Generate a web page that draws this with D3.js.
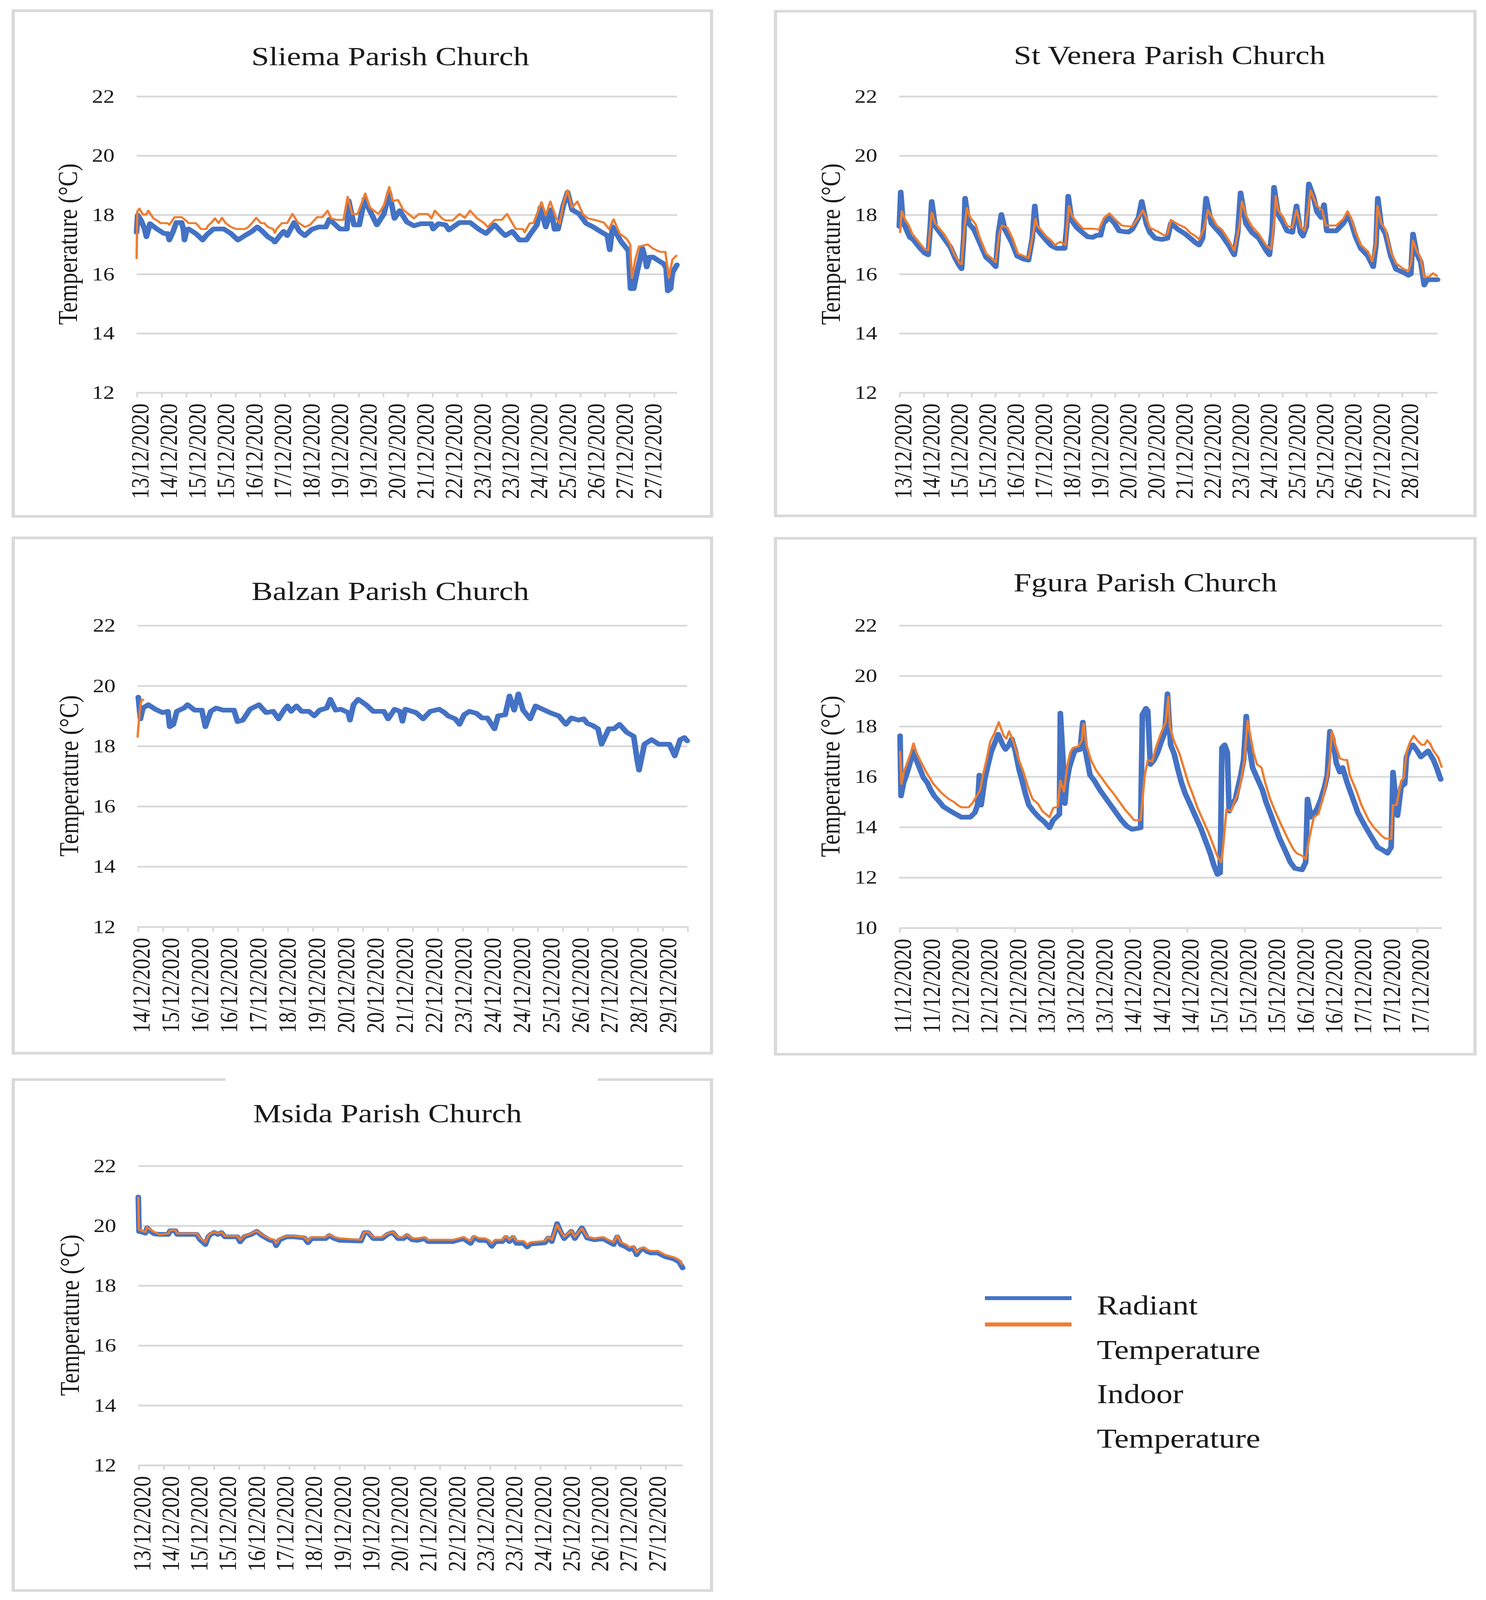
<!DOCTYPE html>
<html>
<head>
<meta charset="utf-8">
<script src="https://cdn.jsdelivr.net/npm/d3@7"></script>
<style>
  html, body { margin: 0; padding: 0; background: #fff; overflow: hidden; }
  svg { display: block; }
  text { font-family: "Liberation Serif", "Times New Roman", serif; fill: #1a1a1a; }
</style>
</head>
<body>
<div id="chart"></div>
<script>
// readings are [reading index, °C]; index runs along each panel's category axis
const sliemaLabels = ["13/12/2020","14/12/2020","15/12/2020","15/12/2020","16/12/2020","17/12/2020","18/12/2020","19/12/2020","19/12/2020","20/12/2020","21/12/2020","22/12/2020","23/12/2020","23/12/2020","24/12/2020","25/12/2020","26/12/2020","27/12/2020","27/12/2020"];
const veneraLabels = ["13/12/2020","14/12/2020","15/12/2020","15/12/2020","16/12/2020","17/12/2020","18/12/2020","19/12/2020","20/12/2020","20/12/2020","21/12/2020","22/12/2020","23/12/2020","24/12/2020","25/12/2020","25/12/2020","26/12/2020","27/12/2020","28/12/2020"];
const balzanLabels = ["14/12/2020","15/12/2020","16/12/2020","16/12/2020","17/12/2020","18/12/2020","19/12/2020","20/12/2020","20/12/2020","21/12/2020","22/12/2020","23/12/2020","24/12/2020","24/12/2020","25/12/2020","26/12/2020","27/12/2020","28/12/2020","29/12/2020"];
const fguraLabels = ["11/12/2020","11/12/2020","12/12/2020","12/12/2020","12/12/2020","13/12/2020","13/12/2020","13/12/2020","14/12/2020","14/12/2020","14/12/2020","15/12/2020","15/12/2020","15/12/2020","16/12/2020","16/12/2020","17/12/2020","17/12/2020","17/12/2020"];
const msidaLabels = ["13/12/2020","14/12/2020","15/12/2020","15/12/2020","16/12/2020","17/12/2020","18/12/2020","19/12/2020","19/12/2020","20/12/2020","21/12/2020","22/12/2020","23/12/2020","23/12/2020","24/12/2020","25/12/2020","26/12/2020","27/12/2020","27/12/2020"];

const yTicks = [12, 14, 16, 18, 20, 22];
const yTicksFgura = [10, 12, 14, 16, 18, 20, 22];
const legendLines = ["Radiant", "Temperature", "Indoor", "Temperature"];

const sliemaRadiant = [[0,17.4],[3,17.98],[13,17.8],[23,17.5],[28,17.25],[38,17.69],[58,17.51],[78,17.36],[88,17.36],[93,17.14],[103,17.4],[113,17.73],[128,17.73],[133,17.5],[136,17.14],[143,17.5],[148,17.51],[168,17.36],[188,17.14],[198,17.3],[218,17.51],[248,17.51],[268,17.36],[288,17.14],[308,17.29],[328,17.43],[343,17.58],[358,17.43],[373,17.25],[388,17.14],[393,17.07],[408,17.3],[418,17.43],[428,17.29],[448,17.73],[463,17.43],[478,17.29],[498,17.5],[518,17.58],[538,17.58],[548,17.84],[568,17.62],[578,17.51],[598,17.51],[603,18.46],[618,17.65],[633,17.65],[648,18.53],[660,18.2],[683,17.65],[703,18.02],[718,18.75],[733,17.87],[748,18.13],[768,17.75],[788,17.62],[808,17.69],[838,17.69],[843,17.51],[858,17.69],[878,17.65],[888,17.48],[908,17.65],[918,17.73],[948,17.73],[973,17.5],[993,17.36],[1018,17.65],[1038,17.4],[1048,17.29],[1068,17.43],[1088,17.14],[1108,17.14],[1118,17.32],[1138,17.65],[1148,18.24],[1163,17.58],[1178,18.16],[1188,17.5],[1198,17.51],[1213,18.31],[1225,18.75],[1238,18.16],[1258,18.02],[1278,17.7],[1298,17.58],[1318,17.43],[1338,17.29],[1345,16.81],[1353,17.58],[1378,17.07],[1398,16.78],[1404,15.5],[1413,15.5],[1423,16.08],[1438,16.85],[1446,16.5],[1450,16.23],[1458,16.56],[1468,16.56],[1488,16.41],[1498,16.34],[1505,16.2],[1510,15.42],[1518,15.5],[1523,16.04],[1536,16.3]];
const sliemaIndoor = [[0,16.5],[2,18.1],[8,18.2],[18,18.0],[28,18.0],[33,18.13],[48,17.87],[58,17.8],[68,17.71],[88,17.71],[93,17.65],[108,17.91],[128,17.91],[138,17.82],[148,17.71],[168,17.71],[173,17.65],[183,17.51],[198,17.51],[203,17.62],[213,17.73],[223,17.87],[233,17.71],[243,17.89],[253,17.71],[268,17.58],[283,17.51],[308,17.51],[318,17.58],[328,17.71],[340,17.89],[353,17.71],[363,17.71],[373,17.58],[388,17.51],[393,17.38],[398,17.51],[413,17.71],[428,17.71],[443,18.02],[458,17.74],[478,17.58],[493,17.65],[513,17.91],[528,17.91],[543,18.13],[553,17.87],[568,17.82],[588,17.82],[600,18.6],[613,18.02],[628,18.02],[643,18.49],[650,18.71],[663,18.24],[678,18.1],[688,18.02],[703,18.31],[718,18.93],[728,18.46],[743,18.49],[758,18.16],[773,18.02],[788,17.87],[803,18.02],[828,18.02],[838,17.87],[848,18.13],[868,17.87],[878,17.8],[898,17.8],[908,17.91],[918,18.02],[933,17.89],[948,18.13],[968,17.87],[988,17.71],[998,17.58],[1018,17.82],[1038,17.82],[1053,18.02],[1068,17.71],[1078,17.51],[1098,17.51],[1103,17.4],[1118,17.71],[1128,17.71],[1151,18.42],[1163,17.98],[1176,18.44],[1193,17.87],[1203,17.69],[1213,18.38],[1225,18.82],[1238,18.24],[1253,18.44],[1268,18.02],[1283,17.87],[1308,17.8],[1328,17.73],[1343,17.51],[1356,17.84],[1373,17.36],[1393,17.18],[1403,16.99],[1408,15.86],[1418,16.5],[1428,16.92],[1453,16.99],[1468,16.85],[1488,16.74],[1503,16.74],[1513,15.86],[1523,16.48],[1536,16.63]];

const veneraRadiant = [[0,17.6],[4,18.76],[10,17.8],[20,17.5],[30,17.23],[40,17.15],[50,17.0],[60,16.85],[72,16.7],[82,16.64],[88,17.6],[92,18.44],[102,17.6],[115,17.4],[130,17.15],[145,16.9],[160,16.5],[172,16.25],[177,16.17],[183,17.2],[187,18.55],[197,17.7],[212,17.5],[227,17.1],[247,16.55],[262,16.4],[274,16.24],[282,17.4],[290,18.0],[300,17.5],[320,17.05],[335,16.6],[352,16.5],[367,16.46],[378,17.2],[385,18.29],[392,17.5],[405,17.3],[420,17.1],[432,16.95],[447,16.86],[470,16.86],[476,17.6],[480,18.62],[490,17.8],[505,17.55],[520,17.4],[535,17.25],[550,17.23],[562,17.3],[572,17.3],[580,17.7],[597,17.9],[612,17.7],[625,17.45],[640,17.42],[652,17.41],[662,17.5],[680,17.9],[689,18.44],[702,17.7],[712,17.4],[727,17.2],[747,17.16],[762,17.2],[772,17.7],[792,17.5],[812,17.35],[827,17.2],[842,17.05],[852,16.97],[862,17.2],[872,18.55],[887,17.7],[902,17.5],[917,17.3],[937,16.95],[952,16.64],[962,17.4],[970,18.73],[985,17.7],[1002,17.4],[1022,17.2],[1042,16.8],[1052,16.64],[1060,17.5],[1065,18.92],[1077,18.0],[1092,17.7],[1102,17.45],[1117,17.4],[1129,18.29],[1140,17.4],[1147,17.27],[1157,17.6],[1164,19.03],[1177,18.6],[1187,18.1],[1199,17.9],[1207,18.33],[1215,17.45],[1242,17.45],[1262,17.7],[1274,17.95],[1284,17.75],[1297,17.25],[1312,16.85],[1332,16.6],[1347,16.24],[1355,17.0],[1360,18.55],[1370,17.6],[1382,17.35],[1397,16.6],[1412,16.15],[1432,16.05],[1447,15.95],[1454,16.0],[1460,17.34],[1470,16.7],[1482,16.4],[1492,15.62],[1500,15.8],[1517,15.8],[1530,15.8]];
const veneraIndoor = [[2,17.38],[7,18.11],[17,17.82],[27,17.63],[37,17.34],[42,17.27],[52,17.12],[62,16.97],[72,16.83],[82,16.79],[92,18.07],[102,17.71],[112,17.56],[127,17.34],[142,17.05],[157,16.64],[172,16.35],[177,16.32],[185,17.52],[192,18.22],[202,17.89],[217,17.67],[227,17.27],[247,16.68],[262,16.53],[274,16.39],[284,17.34],[292,17.63],[307,17.56],[322,17.19],[337,16.68],[352,16.61],[367,16.53],[382,17.45],[387,17.85],[392,17.63],[402,17.49],[417,17.27],[432,17.12],[442,16.97],[457,17.08],[472,16.97],[482,18.29],[492,17.93],[507,17.71],[522,17.52],[552,17.52],[567,17.49],[582,17.89],[597,18.04],[612,17.85],[632,17.63],[652,17.6],[662,17.6],[682,17.93],[692,18.15],[702,17.89],[712,17.56],[737,17.41],[752,17.3],[762,17.34],[772,17.82],[792,17.67],[812,17.56],[827,17.38],[842,17.27],[852,17.16],[867,17.56],[877,18.15],[892,17.85],[902,17.63],[917,17.49],[937,17.12],[952,16.79],[967,17.63],[974,18.44],[987,17.93],[1002,17.6],[1022,17.34],[1042,16.97],[1057,16.83],[1067,17.96],[1070,18.62],[1077,18.15],[1092,17.89],[1102,17.63],[1117,17.56],[1129,18.15],[1142,17.56],[1152,17.45],[1162,18.15],[1169,18.81],[1177,18.58],[1187,18.29],[1202,18.15],[1212,17.63],[1242,17.63],[1262,17.85],[1274,18.11],[1284,17.89],[1297,17.41],[1312,16.97],[1332,16.75],[1344,16.42],[1354,16.97],[1359,18.29],[1370,17.71],[1382,17.49],[1397,16.75],[1412,16.35],[1432,16.17],[1447,16.1],[1455,16.39],[1460,17.12],[1470,16.79],[1482,16.53],[1492,15.88],[1507,15.91],[1517,16.02],[1530,15.91]];

const balzanRadiant = [[2,19.61],[8,18.89],[15,19.25],[30,19.36],[50,19.21],[70,19.1],[85,19.14],[90,18.63],[100,18.7],[110,19.14],[130,19.25],[140,19.36],[160,19.18],[180,19.18],[190,18.63],[205,19.14],[220,19.25],[240,19.18],[270,19.18],[280,18.8],[295,18.85],[315,19.21],[340,19.36],[360,19.1],[380,19.14],[395,18.89],[410,19.18],[420,19.32],[430,19.14],[445,19.32],[460,19.14],[480,19.14],[495,18.99],[510,19.18],[530,19.25],[540,19.54],[555,19.18],[570,19.21],[590,19.1],[595,18.85],[605,19.36],[618,19.54],[640,19.36],[660,19.14],[690,19.14],[702,18.89],[720,19.21],[735,19.14],[742,18.81],[750,19.21],[780,19.1],[800,18.89],[820,19.14],[845,19.21],[860,19.1],[870,18.99],[890,18.89],[902,18.71],[915,19.03],[930,19.14],[950,19.07],[965,18.92],[980,18.92],[1000,18.56],[1010,18.99],[1030,19.03],[1042,19.65],[1055,19.18],[1067,19.72],[1080,19.18],[1100,18.89],[1115,19.32],[1135,19.21],[1155,19.1],[1180,18.99],[1200,18.71],[1215,18.92],[1235,18.85],[1250,18.89],[1260,18.74],[1275,18.67],[1290,18.56],[1300,18.05],[1320,18.56],[1335,18.56],[1350,18.71],[1370,18.45],[1390,18.31],[1400,17.5],[1405,17.19],[1420,18.05],[1440,18.2],[1460,18.05],[1490,18.05],[1505,17.66],[1520,18.2],[1532,18.27],[1540,18.16]];
const balzanIndoor = [[0,18.27],[2,18.6],[8,19.35],[12,19.54],[18,19.5]];

const fguraRadiant = [[1.5,17.61],[3,15.22],[7.5,15.76],[12,16.05],[18,16.53],[24,17.01],[28.6,16.65],[34.6,16.29],[40.6,15.94],[46.6,15.76],[52.6,15.46],[58.6,15.22],[67.6,14.98],[73.7,14.8],[85.7,14.62],[94.7,14.5],[103.7,14.38],[118.7,14.38],[126.3,14.56],[130.8,14.86],[133.8,16.05],[136.8,14.86],[142.8,15.88],[147.3,16.35],[153.3,16.95],[159.3,17.31],[165.3,17.67],[172.9,17.25],[177.4,17.07],[183.4,17.25],[187.9,17.49],[193.9,17.01],[199.9,16.29],[205.9,15.76],[210.4,15.34],[216.4,14.86],[224,14.62],[233,14.38],[242,14.2],[251,13.96],[257,14.26],[267.5,14.5],[269,18.51],[273.6,16.6],[276.6,14.92],[279.6,15.76],[284,16.35],[288.6,16.71],[293,17.01],[302,17.07],[306.6,18.15],[311,17.01],[318.6,16.05],[326,15.82],[335,15.46],[344,15.16],[353,14.86],[362,14.56],[371,14.26],[380,14.02],[389,13.9],[403,13.96],[406,18.45],[412,18.7],[415,18.6],[419.3,16.47],[425.4,16.65],[431.4,16.95],[437.4,17.37],[443.4,17.73],[447.9,19.28],[453.1,17.25],[459.1,16.89],[465.1,16.29],[471.1,15.76],[477.1,15.34],[486.2,14.86],[495.2,14.38],[504.2,13.9],[511.7,13.42],[519.2,12.95],[525.3,12.47],[531.3,12.11],[535.8,12.17],[538.8,17.13],[543.3,17.25],[547.8,16.95],[550.8,14.62],[555.3,14.86],[561.3,15.1],[565.8,15.58],[570.3,16.05],[574.9,16.65],[579.4,18.39],[583.9,17.25],[589.9,16.35],[597.4,15.94],[606.4,15.46],[612.4,14.98],[620,14.5],[627.5,14.02],[635,13.54],[644,13.07],[653,12.59],[660.5,12.35],[672.5,12.29],[678.6,12.59],[681.6,15.1],[687.6,14.38],[692.1,14.5],[698.1,14.74],[704.1,15.1],[710.1,15.58],[714.6,16.05],[719.1,17.79],[723.7,17.49],[729.7,16.53],[735.7,16.17],[740.2,16.35],[747.7,15.76],[756.7,15.16],[765.7,14.56],[777.8,14.02],[789.8,13.54],[798.8,13.19],[807.8,13.07],[815.3,12.95],[821.3,13.19],[824.3,16.17],[831.9,14.44],[837.9,15.58],[843.9,15.7],[846.9,16.77],[852.9,17.13],[857.4,17.25],[864.9,17.01],[870.9,16.77],[876.9,16.89],[882.9,17.01],[892,16.65],[898,16.29],[904,15.88]];
const fguraIndoor = [[1.5,17.01],[3.9,15.7],[7.5,16.17],[13.5,16.53],[19.5,16.95],[24,17.31],[28.6,16.95],[34.6,16.65],[45.1,16.17],[57.1,15.7],[70.7,15.34],[82.7,15.1],[91.7,14.98],[97.7,14.86],[103.7,14.77],[115.7,14.77],[121.8,14.92],[127.8,15.16],[135.3,15.46],[139.8,16.05],[145.8,16.65],[151.8,17.37],[159.3,17.73],[166.2,18.15],[174.4,17.61],[178.9,17.49],[183.4,17.79],[190.9,17.37],[199.9,16.65],[207.4,16.17],[215,15.58],[222.5,15.1],[231.5,14.92],[239,14.62],[248,14.44],[251,14.38],[257,14.74],[264.5,14.8],[269,15.82],[275,15.4],[278,15.94],[281,16.47],[285.6,16.95],[290,17.13],[299,17.19],[305,17.43],[308,18.09],[312.6,17.25],[320,16.65],[329,16.23],[338,15.94],[347,15.64],[359,15.28],[368,14.98],[377,14.68],[386,14.44],[392,14.26],[403,14.26],[410,16.05],[415,16.65],[422.4,16.59],[428.4,17.13],[437.4,17.73],[444.9,18.15],[449.4,19.16],[452,17.97],[459.1,17.37],[468.1,16.89],[477.2,16.17],[483.2,15.7],[489.2,15.34],[498.2,14.74],[507.2,14.26],[516.2,13.78],[523.7,13.31],[531.3,12.83],[537.3,12.59],[540.3,13.07],[546.3,14.68],[553.8,14.62],[559.8,14.98],[565.8,15.34],[570.3,15.76],[576.4,16.65],[581.5,18.21],[585.4,17.73],[591.4,16.95],[597.4,16.47],[604.9,16.35],[610.9,15.76],[618.4,15.16],[627.5,14.62],[636.5,14.14],[648.5,13.54],[657.5,13.13],[663.5,12.95],[674,12.83],[678.6,12.71],[684.6,13.54],[692.1,14.38],[699.6,14.5],[707.1,15.1],[714.6,15.94],[719.1,16.65],[722.2,17.79],[728.2,17.25],[735.7,16.71],[743.2,16.65],[747.7,16.65],[752.2,16.05],[762.7,15.46],[771.7,14.86],[783.8,14.26],[792.8,13.96],[804.8,13.66],[810.8,13.54],[821.3,13.51],[824.3,14.86],[830.4,14.86],[837.9,15.82],[842.4,15.94],[846.9,16.95],[852.9,17.37],[858.9,17.61],[864.9,17.43],[872.4,17.25],[876.9,17.25],[881.5,17.43],[886,17.31],[892,17.01],[899.5,16.77],[906,16.35]];

const msidaRadiant = [[0,20.95],[2,19.8],[10,19.78],[20,19.74],[25,19.92],[35,19.8],[45,19.72],[60,19.7],[85,19.7],[90,19.82],[105,19.82],[110,19.7],[165,19.7],[175,19.52],[185,19.42],[190,19.36],[198,19.62],[205,19.7],[215,19.76],[225,19.7],[235,19.76],[245,19.62],[280,19.62],[288,19.45],[300,19.62],[320,19.7],[335,19.8],[350,19.66],[370,19.52],[385,19.46],[390,19.32],[400,19.52],[420,19.62],[440,19.62],[470,19.58],[480,19.42],[490,19.56],[530,19.56],[540,19.66],[555,19.56],[570,19.5],[630,19.48],[640,19.76],[650,19.76],[665,19.56],[690,19.56],[705,19.7],[720,19.76],[735,19.56],[750,19.56],[760,19.66],[775,19.52],[790,19.5],[810,19.56],[820,19.46],[890,19.46],[920,19.56],[940,19.4],[950,19.6],[965,19.5],[980,19.5],[990,19.46],[1000,19.3],[1010,19.46],[1030,19.46],[1040,19.6],[1050,19.46],[1060,19.6],[1070,19.4],[1090,19.4],[1100,19.28],[1110,19.38],[1150,19.42],[1160,19.58],[1170,19.46],[1185,20.06],[1195,19.78],[1205,19.56],[1225,19.8],[1235,19.56],[1255,19.92],[1270,19.58],[1290,19.52],[1315,19.56],[1330,19.46],[1345,19.36],[1355,19.62],[1365,19.36],[1380,19.28],[1390,19.2],[1400,19.26],[1410,19.02],[1420,19.18],[1430,19.22],[1440,19.12],[1450,19.08],[1470,19.08],[1490,18.96],[1515,18.88],[1530,18.78],[1540,18.58]];
const msidaIndoor = [[0,20.95],[2,19.86],[10,19.82],[20,19.78],[25,19.94],[35,19.86],[45,19.78],[55,19.73],[60,19.69],[85,19.73],[90,19.84],[105,19.84],[110,19.73],[165,19.73],[175,19.57],[185,19.48],[190,19.44],[198,19.65],[205,19.73],[215,19.78],[225,19.73],[235,19.78],[245,19.65],[280,19.65],[288,19.52],[300,19.65],[320,19.73],[335,19.82],[350,19.69],[370,19.57],[385,19.52],[390,19.4],[400,19.57],[420,19.65],[440,19.65],[470,19.61],[480,19.48],[490,19.61],[530,19.61],[540,19.69],[555,19.61],[570,19.57],[630,19.52],[640,19.78],[650,19.78],[665,19.61],[690,19.61],[705,19.73],[720,19.78],[735,19.61],[750,19.61],[760,19.69],[775,19.57],[790,19.57],[810,19.61],[820,19.52],[890,19.52],[920,19.61],[940,19.48],[950,19.65],[965,19.57],[980,19.57],[990,19.52],[1000,19.4],[1010,19.52],[1030,19.52],[1040,19.65],[1050,19.52],[1060,19.65],[1070,19.48],[1090,19.48],[1100,19.36],[1110,19.44],[1150,19.48],[1160,19.61],[1170,19.52],[1185,20.02],[1195,19.8],[1205,19.62],[1225,19.82],[1235,19.62],[1255,19.9],[1270,19.62],[1290,19.57],[1315,19.61],[1330,19.52],[1345,19.44],[1355,19.66],[1365,19.44],[1380,19.36],[1390,19.27],[1400,19.31],[1410,19.1],[1420,19.23],[1430,19.27],[1440,19.19],[1450,19.15],[1470,19.15],[1490,19.02],[1515,18.94],[1530,18.85],[1540,18.68]];

// layout, in units of a 1213-wide frame of the reference
const panels = [
  { title: "Sliema Parish Church", box: [10.8, 10.5, 570, 495], titleX: 318.6, titleY: 63.8,
    xr: [111.5, 552.6], count: 1536, labelEvery: 81, tickEvery: 70, yr: [384, 94], yd: [12, 22],
    ticks: yTicks, labels: sliemaLabels, radiant: sliemaRadiant, indoor: sliemaIndoor },
  { title: "St Venera Parish Church", box: [633, 11, 571, 494], titleX: 954.7, titleY: 62.9,
    xr: [734.1, 1173.5], count: 1530, labelEvery: 80, tickEvery: 68, yr: [384, 94], yd: [12, 22],
    ticks: yTicks, labels: veneraLabels, radiant: veneraRadiant, indoor: veneraIndoor },
  { title: "Balzan Parish Church", box: [10.8, 526.5, 570, 504.5], titleX: 318.6, titleY: 587.3,
    xr: [112.3, 561], count: 1540, labelEvery: 82, tickEvery: 70, yr: [907, 612], yd: [12, 22],
    ticks: yTicks, labels: balzanLabels, radiant: balzanRadiant, indoor: balzanIndoor },
  { title: "Fgura Parish Church", box: [633, 527, 571, 505], titleX: 935, titleY: 579,
    xr: [734, 1177], count: 906, labelEvery: 48, tickEvery: 96, yr: [908, 612], yd: [10, 22],
    ticks: yTicksFgura, labels: fguraLabels, radiant: fguraRadiant, indoor: fguraIndoor },
  { title: "Msida Parish Church", box: [10.8, 1056.8, 570, 500.2], titleX: 316.3, titleY: 1098.6,
    xr: [112.9, 557.2], count: 1540, labelEvery: 81, tickEvery: 71, yr: [1434, 1141], yd: [12, 22],
    ticks: yTicks, labels: msidaLabels, radiant: msidaRadiant, indoor: msidaIndoor }
];

const blue = "#4472C4";
const orange = "#ED7D31";
const grid = "#d9d9d9";

// the whole reference frame is stretched over whatever the window gives
const svg = d3.select("#chart").append("svg")
  .attr("width", window.innerWidth)
  .attr("height", window.innerHeight)
  .attr("viewBox", "0 0 1213 1566.3")
  .attr("preserveAspectRatio", "none");

svg.append("rect").attr("width", 1213).attr("height", 1566.3).attr("fill", "#fff");

panels.forEach(function (p) {
  const g = svg.append("g");

  g.append("rect")
    .attr("x", p.box[0]).attr("y", p.box[1])
    .attr("width", p.box[2]).attr("height", p.box[3])
    .attr("fill", "none").attr("stroke", grid).attr("stroke-width", 2.6);

  const x = d3.scaleLinear().domain([0, p.count]).range(p.xr);
  const y = d3.scaleLinear().domain(p.yd).range(p.yr);
  const w = p.xr[1] - p.xr[0];

  // gridlines + y tick labels
  const yAxis = d3.axisLeft(y).tickValues(p.ticks).tickSize(-w).tickPadding(18).tickFormat(d3.format("d"));
  const gy = g.append("g").attr("transform", "translate(" + p.xr[0] + ",0)").call(yAxis);
  gy.select(".domain").remove();
  gy.selectAll("line").attr("stroke", grid).attr("stroke-width", 1.8);
  gy.selectAll("text").attr("font-size", 18.5).attr("font-family", "Liberation Serif").attr("fill", "#1a1a1a");

  // x tick marks
  const tickIdx = d3.range(0, p.count + 1, p.tickEvery);
  const gt = g.append("g").attr("transform", "translate(0," + p.yr[0] + ")")
    .call(d3.axisBottom(x).tickValues(tickIdx).tickSize(5).tickFormat(""));
  gt.select(".domain").remove();
  gt.selectAll("line").attr("stroke", grid).attr("stroke-width", 1.5);

  // x category labels
  const labelIdx = p.labels.map(function (d, i) { return i * p.labelEvery; });
  const gl = g.append("g").attr("transform", "translate(0," + p.yr[0] + ")")
    .call(d3.axisBottom(x).tickValues(labelIdx).tickSize(0)
      .tickFormat(function (d, i) { return p.labels[i]; }));
  gl.select(".domain").remove();
  gl.selectAll("text")
    .attr("transform", "rotate(-90)")
    .attr("x", -11).attr("y", 0).attr("dy", "0.45em")
    .style("text-anchor", "end")
    .attr("font-size", 20.5).attr("font-family", "Liberation Serif").attr("fill", "#1a1a1a");

  // y axis title
  const yc = (p.yr[0] + p.yr[1]) / 2;
  g.append("text")
    .attr("transform", "translate(" + (p.xr[0] - 56.5) + "," + yc + ") rotate(-90)")
    .attr("text-anchor", "middle").attr("dy", "0.35em")
    .attr("font-size", 22.5)
    .text("Temperature (°C)");

  // title
  g.append("text")
    .attr("x", p.titleX).attr("y", p.titleY)
    .attr("text-anchor", "middle")
    .attr("font-size", 26)
    .text(p.title);

  const line = d3.line().x(function (d) { return x(d[0]); }).y(function (d) { return y(d[1]); });

  g.append("path").datum(p.radiant)
    .attr("d", line).attr("fill", "none").attr("stroke", blue)
    .attr("stroke-width", 4.6).attr("stroke-linejoin", "round").attr("stroke-linecap", "round");
  g.append("path").datum(p.indoor)
    .attr("d", line).attr("fill", "none").attr("stroke", orange)
    .attr("stroke-width", 1.9).attr("stroke-linejoin", "round");
});

// gap in the top border of the last panel
svg.append("line")
  .attr("x1", 184).attr("x2", 488).attr("y1", 1056.8).attr("y2", 1056.8)
  .attr("stroke", "#fff").attr("stroke-width", 3);

// legend
const legend = svg.append("g");
legend.append("line").attr("x1", 804).attr("x2", 874.7).attr("y1", 1270.8).attr("y2", 1270.8)
  .attr("stroke", blue).attr("stroke-width", 3.9);
legend.append("line").attr("x1", 804).attr("x2", 874.7).attr("y1", 1296.6).attr("y2", 1296.6)
  .attr("stroke", orange).attr("stroke-width", 3.9);
legend.selectAll("text.leg").data(legendLines).enter().append("text")
  .attr("class", "leg")
  .attr("x", 895.3)
  .attr("y", function (d, i) { return 1286.8 + i * 43.4; })
  .attr("font-size", 26.5)
  .text(function (d) { return d; });
</script>
</body>
</html>
